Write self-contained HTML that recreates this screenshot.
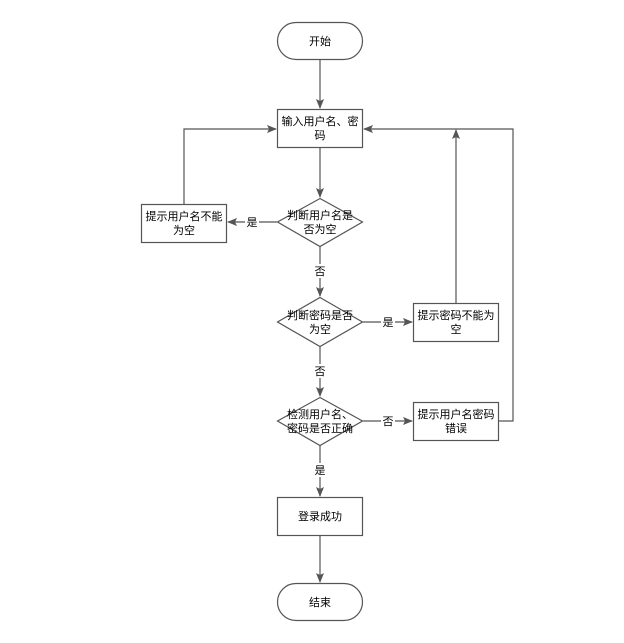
<!DOCTYPE html>
<html><head><meta charset="utf-8"><style>
html,body{margin:0;padding:0;background:#fff}
svg text{font-family:"Liberation Sans","Noto Sans CJK SC",sans-serif;font-size:11px;fill:#000;text-anchor:middle}
</style></head><body>
<svg width="624" height="638" viewBox="0 0 624 638" xmlns="http://www.w3.org/2000/svg">
<defs><marker id="a" markerWidth="10" markerHeight="8" refX="9" refY="4" orient="auto" markerUnits="userSpaceOnUse"><path d="M0,0 L10,4 L0,8 L2,4 Z" fill="#555"/></marker></defs>
<g fill="#fff" stroke="#555" stroke-width="1.2">
<rect x="277.5" y="22.5" width="85" height="37" rx="18.5"/>
<rect x="277.5" y="109.5" width="85" height="38"/>
<path d="M320,198.5 L362.5,222 L320,246.5 L277.5,222 Z"/>
<rect x="141.5" y="204.5" width="85" height="38"/>
<path d="M320,297.5 L362.5,322 L320,346.5 L277.5,322 Z"/>
<rect x="413.5" y="303.5" width="85" height="38"/>
<path d="M320,397.5 L362.5,421 L320,445.5 L277.5,421 Z"/>
<rect x="413.5" y="402.5" width="85" height="38"/>
<rect x="277.5" y="497.5" width="85" height="38"/>
<rect x="277.5" y="583.5" width="85" height="37" rx="18.5"/>
</g>
<g fill="none" stroke="#555" stroke-width="1.2" marker-end="url(#a)">
<path d="M320,60 V108"/>
<path d="M320,148 V197"/>
<path d="M277,222 H228"/>
<path d="M184,204 V129 H276"/>
<path d="M320,247 V296"/>
<path d="M363,322 H412"/>
<path d="M456,303 V130"/>
<path d="M320,347 V396"/>
<path d="M363,421 H412"/>
<path d="M499,421 H513 V129 H364"/>
<path d="M320,446 V496"/>
<path d="M320,536 V582"/>
</g>
<g fill="#fff"><rect x="245" y="215" width="14" height="14"/><rect x="313" y="264" width="14" height="14"/><rect x="381" y="315" width="14" height="14"/><rect x="313" y="364" width="14" height="14"/><rect x="381" y="414" width="14" height="14"/><rect x="313" y="463" width="14" height="14"/></g>
<text x="320" y="45">开始</text>
<text x="320" y="125">输入用户名、密</text><text x="320" y="139">码</text>
<text x="320" y="219">判断用户名是</text><text x="320" y="233">否为空</text>
<text x="184" y="220">提示用户名不能</text><text x="184" y="234">为空</text>
<text x="252" y="226">是</text>
<text x="320" y="275">否</text>
<text x="320" y="319">判断密码是否</text><text x="320" y="333">为空</text>
<text x="388" y="326">是</text>
<text x="456" y="319">提示密码不能为</text><text x="456" y="333">空</text>
<text x="320" y="375">否</text>
<text x="320" y="418">检测用户名、</text><text x="320" y="432">密码是否正确</text>
<text x="388" y="425">否</text>
<text x="456" y="418">提示用户名密码</text><text x="456" y="432">错误</text>
<text x="320" y="474">是</text>
<text x="320" y="520">登录成功</text>
<text x="320" y="606">结束</text>
</svg>
</body></html>
